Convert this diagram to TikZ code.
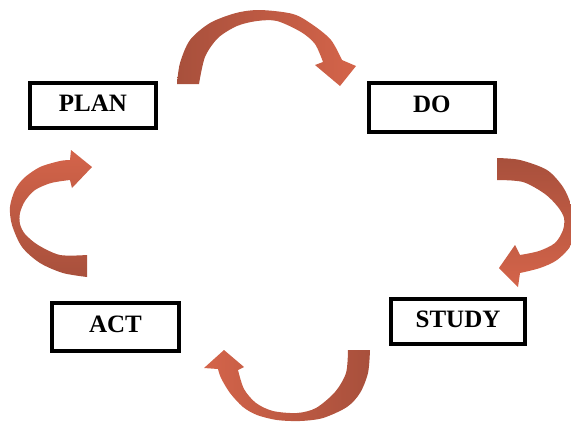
\documentclass[tikz,border=0pt]{standalone}
\usepackage{fontspec}
\setmainfont{Liberation Serif}

\definecolor{arrowdark}{RGB}{168,80,60}
\definecolor{arrowlight}{RGB}{212,100,74}

% curved block arrows, in picture pixels
\def\plandoarrow{plot[smooth] coordinates {(177,84) (180,63) (190,40) (210,23) (236,13) (260,10) (293,14) (313,25) (331,40) (342,60)}
  -- (356,66) -- (340,86) -- (315,65)
  -- plot[smooth] coordinates {(323,62) (315,44) (301,32) (277,21) (257,21) (237,26) (218,38) (205,57) (199,84)} -- cycle}
\def\dostudyarrow{plot[smooth] coordinates {(497,158) (520,160) (547,170) (563,187) (571,205) (574,225) (571,245) (557,260) (540,268) (520,273)}
  -- (518,287) -- (499,268) -- (515,245)
  -- plot[smooth] coordinates {(520,255) (539,251) (555,243) (563,230) (564,218) (558,207) (545,194) (523,182) (497,180)} -- cycle}
\def\studyactarrow{plot[smooth] coordinates {(370,350) (368,373) (360,393) (347,407) (323,418) (300,421) (277,420) (257,415) (243,407) (230,393) (221,378) (218,369)}
  -- (204,368) -- (224,350) -- (244,367)
  -- plot[smooth] coordinates {(238,370) (244,389) (256,403) (273,411) (297,413) (316,408) (335,392) (346,373) (348,350)} -- cycle}
\def\actplanarrow{plot[smooth] coordinates {(87,277) (63,273) (40,263) (22,247) (12,225) (10,207) (15,190) (24,178) (40,167) (60,161) (70,160)}
  -- (71,150) -- (92,167) -- (72,188)
  -- plot[smooth] coordinates {(70,180) (51,183) (35,190) (25,201) (20,213) (20,224) (25,234) (38,245) (60,255) (87,255)} -- cycle}

\begin{document}
\begin{tikzpicture}[x=1pt, y=-1pt,
    phase/.style={draw, line width=4pt, inner sep=0pt, text depth=5pt,
      font=\fontsize{25}{25}\selectfont\bfseries}]
    \useasboundingbox (0,0) rectangle (571,421);

    \node[phase, minimum width=125.7pt, minimum height=45.3pt] (plan) at (93,105.3) {PLAN};
    \node[phase, minimum width=125.7pt, minimum height=49pt] (do) at (431.8,107.2) {DO};
    \node[phase, minimum width=134pt, minimum height=45.3pt] (study) at (458,321.3) {STUDY};
    \node[phase, minimum width=127pt, minimum height=47.7pt] (act) at (115.5,326.8) {ACT};

    % the four arrows of the cycle
    \shade[left color=arrowdark, right color=arrowlight] \plandoarrow;
    \shade[top color=arrowdark, bottom color=arrowlight] \dostudyarrow;
    \shade[right color=arrowdark, left color=arrowlight] \studyactarrow;
    \shade[bottom color=arrowdark, top color=arrowlight] \actplanarrow;

\end{tikzpicture}
\end{document}
